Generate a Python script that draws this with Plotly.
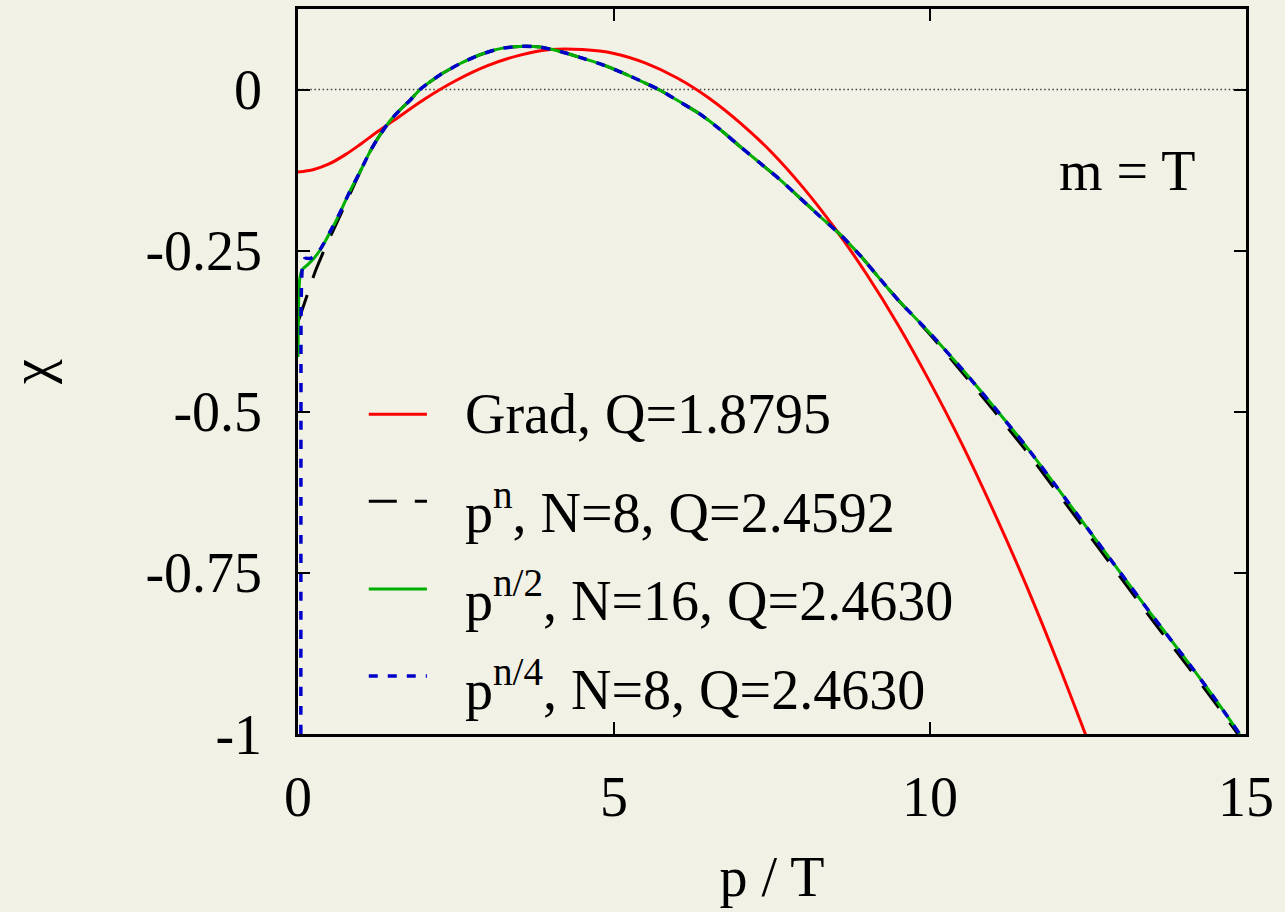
import plotly.graph_objects as go

# ---- chi(p) curves, momentum in units of T (m = T) ----
# Grad 14-moment result
p_grad = [0.0, 0.25, 0.5, 0.75, 1.0, 1.25, 1.5, 2.0, 2.5, 3.0, 3.5, 4.0, 4.5, 5.0,
          5.5, 6.0, 6.5, 7.0, 7.5, 8.0, 8.5, 9.0, 9.5, 10.0, 10.5, 11.0, 11.5,
          12.0, 12.47]
chi_grad = [-0.128, -0.124, -0.115, -0.101, -0.084, -0.066, -0.049, -0.015, 0.014,
            0.037, 0.053, 0.062, 0.062, 0.056, 0.041, 0.018, -0.013, -0.052,
            -0.098, -0.153, -0.216, -0.287, -0.366, -0.454, -0.549, -0.653,
            -0.764, -0.884, -1.003]

# basis p^n, N = 8
p_pn = [0.0, 0.03, 0.19, 0.27, 0.45, 0.56, 0.74, 0.98, 1.14, 1.30, 1.46, 1.62,
        1.77, 1.93, 2.09, 2.25, 2.56, 2.88, 3.20, 3.51, 3.83, 4.15, 4.46, 4.78,
        5.09, 5.41, 5.73, 6.04, 6.36, 6.68, 6.99, 7.31, 7.63, 7.94, 8.26, 8.58,
        8.90, 9.21, 9.5, 10.0, 10.5, 11.0, 11.5, 12.0, 12.5, 13.0, 13.5, 14.0,
        14.5, 14.87]
chi_pn = [-0.360, -0.352, -0.306, -0.283, -0.241, -0.218, -0.180, -0.128, -0.096,
          -0.070, -0.048, -0.031, -0.017, 0.000, 0.012, 0.023, 0.040, 0.054,
          0.0635, 0.067, 0.066, 0.059, 0.050, 0.040, 0.028, 0.014, -0.001,
          -0.019, -0.038, -0.062, -0.088, -0.114, -0.140, -0.168, -0.197,
          -0.225, -0.258, -0.294, -0.327, -0.380, -0.438, -0.497, -0.558,
          -0.623, -0.689, -0.755, -0.821, -0.885, -0.950, -1.000]

# basis p^(n/2), N = 16
p_pn2 = [0.0, 0.01, 0.03, 0.07, 0.15, 0.25, 0.35, 0.51, 0.66, 0.82, 0.98, 1.14,
         1.30, 1.46, 1.62, 1.77, 1.93, 2.09, 2.25, 2.56, 2.88, 3.20, 3.51, 3.83,
         4.15, 4.46, 4.78, 5.09, 5.41, 5.73, 6.04, 6.36, 6.68, 6.99, 7.31, 7.63,
         7.94, 8.26, 8.58, 8.90, 9.21, 9.5, 10.0, 10.5, 11.0, 11.5, 12.0, 12.5,
         13.0, 13.5, 14.0, 14.5, 14.9]
chi_pn2 = [-0.415, -0.330, -0.292, -0.279, -0.272, -0.262, -0.249, -0.221, -0.192,
           -0.158, -0.128, -0.096, -0.070, -0.048, -0.031, -0.017, 0.000, 0.012,
           0.023, 0.040, 0.054, 0.0635, 0.067, 0.066, 0.059, 0.050, 0.040, 0.028,
           0.014, -0.001, -0.019, -0.038, -0.062, -0.088, -0.114, -0.140, -0.168,
           -0.197, -0.225, -0.258, -0.294, -0.327, -0.378, -0.433, -0.491,
           -0.551, -0.616, -0.682, -0.748, -0.814, -0.878, -0.944, -1.000]

# basis p^(n/4), N = 8
p_pn4 = [0.045, 0.047, 0.05, 0.07, 0.11, 0.20, 0.35, 0.51, 0.66, 0.82, 0.98, 1.14,
         1.30, 1.46, 1.62, 1.77, 1.93, 2.09, 2.25, 2.56, 2.88, 3.20, 3.51, 3.83,
         4.15, 4.46, 4.78, 5.09, 5.41, 5.73, 6.04, 6.36, 6.68, 6.99, 7.31, 7.63,
         7.94, 8.26, 8.58, 8.90, 9.21, 9.5, 10.0, 10.5, 11.0, 11.5, 12.0, 12.5,
         13.0, 13.5, 14.0, 14.5, 14.9]
chi_pn4 = [-1.000, -0.500, -0.330, -0.275, -0.262, -0.262, -0.248, -0.220, -0.192,
           -0.158, -0.128, -0.096, -0.070, -0.048, -0.031, -0.017, 0.000, 0.012,
           0.023, 0.040, 0.054, 0.0635, 0.067, 0.066, 0.059, 0.050, 0.040, 0.028,
           0.014, -0.001, -0.019, -0.038, -0.062, -0.088, -0.114, -0.140, -0.168,
           -0.197, -0.225, -0.258, -0.294, -0.327, -0.378, -0.433, -0.491,
           -0.551, -0.616, -0.682, -0.748, -0.814, -0.878, -0.944, -1.000]

x_ticks = [0, 5, 10, 15]
x_ticktext = ["0", "5", "10", "15"]
y_ticks = [0, -0.25, -0.5, -0.75, -1]
y_ticktext = ["0", "-0.25", "-0.5", "-0.75", "-1"]

legend_labels = [
    "Grad, Q=1.8795",
    "p<sup>n</sup>, N=8, Q=2.4592",
    "p<sup>n/2</sup>, N=16, Q=2.4630",
    "p<sup>n/4</sup>, N=8, Q=2.4630",
]

BG = "#f2f1e6"
FONT = "Liberation Serif, Times New Roman, serif"
FS = 56

styles = [
    dict(color="#ff0000", width=3, dash="solid"),
    dict(color="#000000", width=3, dash="28px,18px"),
    dict(color="#00b000", width=3, dash="solid"),
    dict(color="#0000c8", width=3.5, dash="9px,10px"),
]
series = [(p_grad, chi_grad), (p_pn, chi_pn), (p_pn2, chi_pn2), (p_pn4, chi_pn4)]
smooth = [1.0, 0.6, 0.6, 0.6]

fig = go.Figure()
for (px, py), st, name, sm in zip(series, styles, legend_labels, smooth):
    fig.add_trace(go.Scatter(
        x=px, y=py, mode="lines", name=name, showlegend=False,
        line=dict(color=st["color"], width=st["width"], dash=st["dash"],
                  shape="spline", smoothing=sm),
    ))

# dotted zero axis
fig.add_shape(type="line", xref="x", yref="y", x0=0, x1=15, y0=0, y1=0,
              line=dict(color="#444444", width=1.5, dash="1.5px,2.6px"), layer="below")

# key: line samples and labels
key_y = [-0.504, -0.639, -0.775, -0.910]
key_text_y = [-0.503, -0.650, -0.786, -0.925]
for st, ly, ty, lab in zip(styles, key_y, key_text_y, legend_labels):
    fig.add_shape(type="line", xref="x", yref="y", x0=1.12, x1=2.04, y0=ly, y1=ly,
                  line=dict(color=st["color"], width=st["width"], dash=st["dash"]))
    fig.add_annotation(x=2.61, y=ty, xref="x", yref="y", text=lab, showarrow=False,
                       xanchor="left", yanchor="middle",
                       font=dict(family=FONT, size=FS, color="black"))

fig.add_annotation(x=12.01, y=-0.1266, xref="x", yref="y", text="m = T",
                   showarrow=False, xanchor="left", yanchor="middle",
                   font=dict(family=FONT, size=FS, color="black"))

axis_common = dict(
    showline=True, linecolor="black", linewidth=2.5, mirror="ticks",
    ticks="inside", ticklen=12, tickwidth=2, tickcolor="black",
    showgrid=False, zeroline=False,
    tickfont=dict(family=FONT, size=FS, color="black"),
)

fig.update_xaxes(range=[0, 15], tickvals=x_ticks, ticktext=x_ticktext,
                 title=dict(text="p / T", font=dict(family=FONT, size=FS, color="black"),
                            standoff=30),
                 ticklabelstandoff=12, **axis_common)
fig.update_yaxes(range=[-1, 0.125], tickvals=y_ticks, ticktext=y_ticktext,
                 title=dict(text="χ", font=dict(family=FONT, size=FS, color="black"),
                            standoff=82),
                 ticklabelstandoff=22, **axis_common)

fig.update_layout(
    width=1285, height=912,
    margin=dict(l=298, r=39, t=9, b=178, autoexpand=False),
    paper_bgcolor=BG, plot_bgcolor=BG,
    font=dict(family=FONT, size=FS, color="black"),
)

fig.write_html("out.html")
